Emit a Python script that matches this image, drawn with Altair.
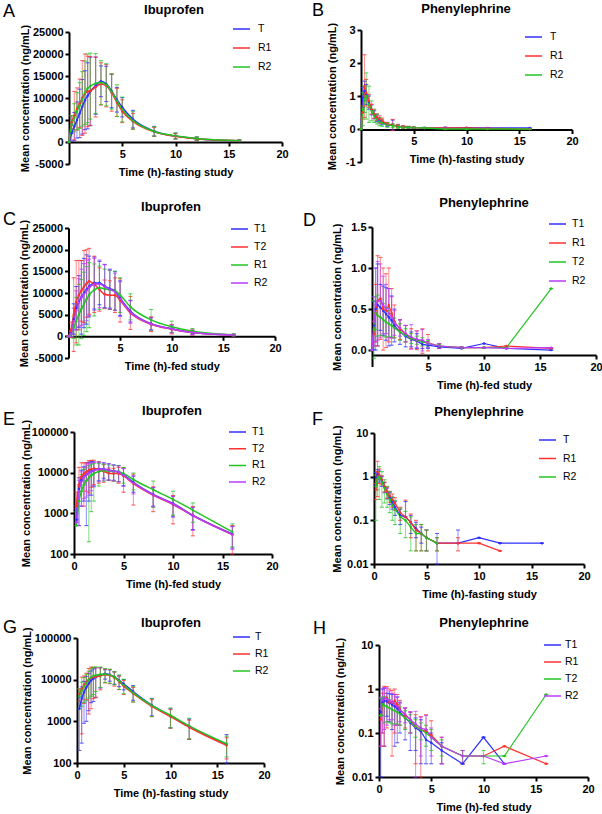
import altair as alt
import pandas as pd

# ---------------- data ----------------
ibu_t = [0, 0.25, 0.5, 0.75, 1, 1.25, 1.5, 1.75, 2, 2.5, 3, 3.5, 4, 4.5, 5, 6, 8, 10, 12, 16]
phe_t = [0, 0.17, 0.33, 0.5, 0.75, 1, 1.25, 1.5, 1.75, 2, 2.5, 3, 3.5, 4, 4.5, 5, 6, 8, 10, 12, 16]

# Ibuprofen - fasting study
ibu_fast_T = [0, 2000, 3500, 5000, 6500, 8000, 9500, 10500, 11500, 12800, 13800, 13200, 11600, 9600, 7900, 5200, 2450, 1350, 750, 280]
ibu_fast_T_sd = [0, 1800, 3200, 4100, 5500, 6200, 6700, 7500, 7800, 6500, 3500, 4000, 3800, 2800, 2200, 2000, 1100, 650, 380, 200]
ibu_fast_R1 = [0, 4500, 6000, 7500, 8800, 10000, 11000, 11500, 11600, 12500, 13200, 12800, 11200, 9000, 7000, 4700, 2300, 1300, 720, 265]
ibu_fast_R1_sd = [0, 1500, 5500, 4800, 5500, 8500, 9000, 8000, 7800, 6800, 4800, 4800, 4200, 3200, 2600, 1800, 1000, 620, 350, 140]
ibu_fast_R2 = [0, 4000, 5500, 7000, 8300, 9800, 11200, 12200, 12700, 13300, 13500, 13000, 11500, 9400, 7400, 4900, 2400, 1400, 780, 290]
ibu_fast_R2_sd = [0, 2000, 3200, 4200, 5200, 6200, 7200, 7800, 7500, 6800, 5000, 4800, 4000, 3600, 2800, 2000, 1100, 700, 400, 150]

# Ibuprofen - fed study
ibu_fed_T1 = [0, 700, 4000, 6500, 8000, 9000, 10000, 10800, 11500, 12300, 12300, 11600, 11000, 10500, 8800, 5800, 2900, 1750, 900, 310]
ibu_fed_T1_sd = [0, 800, 3500, 5000, 6000, 8500, 8000, 8000, 7000, 6000, 5000, 5000, 4500, 4500, 4000, 2500, 1400, 900, 500, 170]
ibu_fed_T2 = [0, 1500, 5000, 8000, 9500, 10500, 11500, 12200, 12700, 12000, 10800, 9700, 9500, 9500, 8300, 5400, 2800, 1650, 880, 300]
ibu_fed_T2_sd = [0, 1800, 8500, 9500, 8000, 7000, 8300, 7800, 7600, 6500, 5000, 3300, 3300, 4000, 5000, 3800, 1700, 1100, 600, 200]
ibu_fed_R1 = [0, 500, 2000, 3500, 5000, 6300, 7500, 8600, 9500, 10700, 11200, 11000, 10700, 10500, 9500, 6800, 3800, 2200, 1200, 350]
ibu_fed_R1_sd = [0, 600, 2500, 5500, 7000, 6800, 7300, 7500, 7500, 6000, 5000, 4500, 4500, 4500, 4000, 3000, 2400, 1300, 600, 200]
ibu_fed_R2 = [0, 600, 3500, 6000, 7800, 9000, 9800, 10600, 11300, 12000, 12100, 11500, 10800, 10300, 8600, 5600, 2850, 1700, 880, 300]
ibu_fed_R2_sd = [0, 700, 3000, 4500, 5500, 6500, 7000, 7000, 6500, 6000, 5500, 5000, 4500, 4300, 4000, 2600, 1400, 900, 500, 170]

# Phenylephrine - fasting study
phe_fast_T = [0, 0.95, 1.15, 1.05, 0.8, 0.58, 0.43, 0.33, 0.26, 0.2, 0.13, 0.12, 0.09, 0.065, 0.05, 0.04, 0.03, 0.03, 0.04, 0.03, 0.03]
phe_fast_T_sd = [0, 0.3, 0.3, 0.3, 0.2, 0.15, 0.12, 0.1, 0.08, 0.07, 0.05, 0.15, 0.04, 0.025, 0.02, 0.02, 0.02, 0.03, 0, 0, 0]
phe_fast_R1 = [0, 0.5, 1.3, 1.1, 0.85, 0.6, 0.45, 0.36, 0.3, 0.25, 0.15, 0.12, 0.09, 0.06, 0.05, 0.04, 0.03, 0.03, 0.03, 0.02, 0]
phe_fast_R1_sd = [0, 0.2, 0.95, 0.4, 0.2, 0.15, 0.13, 0.1, 0.1, 0.08, 0.05, 0.17, 0.05, 0.04, 0.03, 0.02, 0.01, 0.01, 0, 0, 0]
phe_fast_R2 = [0, 0.6, 0.9, 1.0, 0.75, 0.55, 0.4, 0.3, 0.22, 0.18, 0.12, 0.1, 0.07, 0.05, 0.05, 0.04, 0.03, 0, 0, 0, 0]
phe_fast_R2_sd = [0, 0.5, 0.4, 0.7, 0.55, 0.3, 0.2, 0.15, 0.12, 0.1, 0.07, 0.06, 0.05, 0.03, 0.03, 0.02, 0.01, 0, 0, 0, 0]

# Phenylephrine - fed study
phe_fed_T1 = [0, 0.3, 0.5, 0.55, 0.52, 0.48, 0.44, 0.4, 0.36, 0.3, 0.22, 0.17, 0.13, 0.11, 0.07, 0.06, 0.04, 0.02, 0.08, 0.02, 0]
phe_fed_T1_sd = [0, 0.295, 0.5, 0.5, 0.28, 0.3, 0.32, 0.35, 0.3, 0.2, 0.15, 0.13, 0.09, 0.09, 0.05, 0.04, 0.02, 0, 0, 0, 0]
phe_fed_R1 = [0, 0.2, 0.45, 0.6, 0.63, 0.5, 0.48, 0.55, 0.45, 0.35, 0.25, 0.2, 0.14, 0.12, 0.11, 0.09, 0.05, 0.03, 0.03, 0.05, 0.02]
phe_fed_R1_sd = [0, 0.15, 0.35, 0.55, 0.5, 0.5, 0.45, 0.45, 0.3, 0.2, 0.12, 0.1, 0.12, 0.115, 0.15, 0.1, 0.03, 0.01, 0, 0, 0]
phe_fed_T2 = [0, 0.25, 0.45, 0.42, 0.4, 0.37, 0.34, 0.32, 0.3, 0.27, 0.22, 0.18, 0.14, 0.12, 0.1, 0.08, 0.05, 0.03, 0.03, 0.03, 0.75]
phe_fed_T2_sd = [0, 0.35, 0.2, 0.25, 0.22, 0.2, 0.18, 0.16, 0.14, 0.12, 0.1, 0.08, 0.06, 0.05, 0.05, 0.04, 0.02, 0.01, 0.01, 0, 0]
phe_fed_R2 = [0, 0.35, 0.55, 0.6, 0.6, 0.55, 0.5, 0.45, 0.4, 0.33, 0.27, 0.2, 0.16, 0.13, 0.12, 0.08, 0.05, 0.03, 0.03, 0.02, 0.03]
phe_fed_R2_sd = [0, 0.3, 0.45, 0.48, 0.45, 0.35, 0.3, 0.3, 0.25, 0.15, 0.1, 0.1, 0.15, 0.1, 0.13, 0.05, 0.03, 0.01, 0, 0, 0]

ibu_lin_ticks = [-5000, 0, 5000, 10000, 15000, 20000, 25000]
phe_lin_ticks = [-1, 0, 1, 2, 3]
phe_fed_lin_ticks = [0, 0.5, 1.0, 1.5]
ibu_log_ticks = [100, 1000, 10000, 100000]
phe_log_ticks = [0.01, 0.1, 1, 10]
x_ticks_cross = [5, 10, 15, 20]
x_ticks_full = [0, 5, 10, 15, 20]

# ---------------- styling ----------------
FONT = "Liberation Sans"
BLUE, RED, GREEN, PURPLE = "#2f2fff", "#ff3030", "#22c422", "#b93cff"
TOTAL_H = 814


def long_df(t, series, floor=None):
    rows = []
    for name, (m, s) in series.items():
        for ti, mi, si in zip(t, m, s):
            lo, hi = mi - si, mi + si
            if floor is not None:
                if mi <= 0:
                    continue
                if lo <= 0:
                    lo = mi          # lower bar not drawable on a log axis
                else:
                    lo = max(lo, floor)
            rows.append({"t": ti, "series": name, "mean": mi, "lo": lo, "hi": hi})
    return pd.DataFrame(rows)


ibu_fast = {"T": (ibu_fast_T, ibu_fast_T_sd), "R1": (ibu_fast_R1, ibu_fast_R1_sd), "R2": (ibu_fast_R2, ibu_fast_R2_sd)}
ibu_fed = {"T1": (ibu_fed_T1, ibu_fed_T1_sd), "T2": (ibu_fed_T2, ibu_fed_T2_sd), "R1": (ibu_fed_R1, ibu_fed_R1_sd), "R2": (ibu_fed_R2, ibu_fed_R2_sd)}
phe_fast = {"T": (phe_fast_T, phe_fast_T_sd), "R1": (phe_fast_R1, phe_fast_R1_sd), "R2": (phe_fast_R2, phe_fast_R2_sd)}
phe_fed = {"T1": (phe_fed_T1, phe_fed_T1_sd), "R1": (phe_fed_R1, phe_fed_R1_sd), "T2": (phe_fed_T2, phe_fed_T2_sd), "R2": (phe_fed_R2, phe_fed_R2_sd)}


def panel(df, order, colors, xr, yr, ydom, ytype, yvals, lab_expr, xvals, xaxis_y,
          leg, ytp, xtitle, interp, lw):
    xs = alt.Scale(domain=[0, 20], range=xr, nice=False, zero=False)
    if ytype == "log":
        ys = alt.Scale(type="log", domain=ydom, range=yr, nice=False)
    else:
        ys = alt.Scale(domain=ydom, range=yr, nice=False, zero=False)
    xa = alt.Axis(orient="bottom", offset=xaxis_y - TOTAL_H, values=xvals, title=xtitle,
                  labelExpr="'' + datum.value")
    ya = alt.Axis(orient="left", offset=-xr[0], values=yvals, labelExpr=lab_expr,
                  title="Mean concentration (ng/mL)", titlePadding=ytp)
    lx, ly, step, loff = leg
    legend = alt.Legend(orient="none", legendX=lx, legendY=ly - 6, title=None, clipHeight=12,
                        rowPadding=step - 12, symbolType="stroke", symbolSize=289,
                        symbolStrokeWidth=1.5, symbolOpacity=1, labelOffset=loff, padding=0,
                        labelFont=FONT, labelFontSize=10.5, labelColor="black")
    col = alt.Color("series:N", scale=alt.Scale(domain=order, range=colors), legend=legend, sort=order)
    X = alt.X("t:Q", scale=xs, axis=xa)
    base = alt.Chart(df)
    rules = base.mark_rule(strokeWidth=1.1, opacity=0.5).encode(
        x=X, y=alt.Y("lo:Q", scale=ys, axis=ya), y2="hi:Q", color=col)
    cap_hi = base.mark_tick(orient="horizontal", size=4, thickness=1.1, opacity=0.75).encode(
        x=X, y=alt.Y("hi:Q", scale=ys, axis=ya), color=col)
    cap_lo = base.mark_tick(orient="horizontal", size=4, thickness=1.1, opacity=0.75).encode(
        x=X, y=alt.Y("lo:Q", scale=ys, axis=ya), color=col)
    line = base.mark_line(strokeWidth=lw, interpolate=interp).encode(
        x=X, y=alt.Y("mean:Q", scale=ys, axis=ya), color=col)
    pts = base.mark_circle(size=6, opacity=1).encode(
        x=X, y=alt.Y("mean:Q", scale=ys, axis=ya), color=col)
    return alt.layer(rules, cap_hi, cap_lo, line, pts)


def label(txt, x, y, size, weight="bold", align="center"):
    return alt.Chart(pd.DataFrame({"a": [0]})).mark_text(
        text=txt, font=FONT, fontSize=size, fontWeight=weight, align=align,
        baseline="middle", color="black").encode(x=alt.value(x), y=alt.value(y))


C3 = [BLUE, RED, GREEN]
C_fed_ibu = [BLUE, RED, GREEN, PURPLE]
C_fed_phe = [BLUE, RED, GREEN, PURPLE]
LIN = "'' + datum.value"
FAST = "Time (h)-fasting study"
FED = "Time (h)-fed study"

pA = panel(long_df(ibu_t, ibu_fast), ["T", "R1", "R2"], C3, [69, 282], [164, 32], [-5000, 25000], "linear",
           ibu_lin_ticks, LIN, x_ticks_cross, 142, (232, 29, 19, 7), 2, FAST, "monotone", 1.5)
pB = panel(long_df(phe_t, phe_fast), ["T", "R1", "R2"], C3, [361, 572], [162, 30], [-1, 3], "linear",
           phe_lin_ticks, LIN, x_ticks_cross, 129.5, (524, 37, 19, 7), 8, FAST, "linear", 1.3)
pC = panel(long_df(ibu_t, ibu_fed), ["T1", "T2", "R1", "R2"], C_fed_ibu, [68.5, 275], [358, 228], [-5000, 25000], "linear",
           ibu_lin_ticks, LIN, x_ticks_cross, 336.3, (230, 229, 18, 5), 2.5, FED, "monotone", 1.5)
pD = panel(long_df(phe_t, phe_fed), ["T1", "R1", "T2", "R2"], C_fed_phe, [372, 596], [366.5, 227], [-0.2, 1.5], "linear",
           phe_fed_lin_ticks, "format(datum.value, '.1f')", x_ticks_cross, 355, (548, 224, 19, 5), 8.5, FED, "linear", 1.2)
pE = panel(long_df(ibu_t, ibu_fed, floor=100), ["T1", "T2", "R1", "R2"], C_fed_ibu, [74, 272], [554, 432], [100, 100000], "log",
           ibu_log_ticks, LIN, x_ticks_full, 554, (228, 432, 16.7, 5), 0, FED, "monotone", 1.5)
pF = panel(long_df(phe_t, phe_fast, floor=0.01), ["T", "R1", "R2"], C3, [374, 584], [564, 433], [0.01, 10], "log",
           phe_log_ticks, LIN, x_ticks_full, 564, (538, 440, 18.5, 6), 4, FAST, "linear", 1.3)
pG = panel(long_df(ibu_t, ibu_fast, floor=100), ["T", "R1", "R2"], C3, [77, 264], [763, 638], [100, 100000], "log",
           ibu_log_ticks, LIN, x_ticks_full, 763, (232, 637, 17, 4), 2, FAST, "monotone", 1.5)
pH = panel(long_df(phe_t, phe_fed, floor=0.01), ["T1", "R1", "T2", "R2"], C_fed_phe, [379, 588], [777, 645], [0.01, 10], "log",
           phe_log_ticks, LIN, x_ticks_full, 777, (543, 645, 17, 3), 6, FED, "linear", 1.2)

texts = [
    label("Ibuprofen", 174, 10, 13), label("Phenylephrine", 466, 9, 13),
    label("Ibuprofen", 171, 207, 13), label("Phenylephrine", 484, 203, 13),
    label("Ibuprofen", 172, 411, 13), label("Phenylephrine", 479, 412, 13),
    label("Ibuprofen", 171, 623, 13), label("Phenylephrine", 484, 623, 13),
    label("A", 3, 12, 18, "normal", "left"), label("B", 312, 11, 18, "normal", "left"),
    label("C", 3, 220, 18, "normal", "left"), label("D", 303, 221, 18, "normal", "left"),
    label("E", 3, 420, 18, "normal", "left"), label("F", 312, 420, 18, "normal", "left"),
    label("G", 3, 628, 18, "normal", "left"), label("H", 313, 629, 18, "normal", "left"),
]

chart = alt.layer(pA, pB, pC, pD, pE, pF, pG, pH, *texts).resolve_scale(
    x="independent", y="independent", color="independent"
).properties(
    width=602, height=814, padding=0, autosize=alt.AutoSizeParams(type="none")
).configure_view(stroke=None).configure_axis(
    grid=False, domainColor="black", domainWidth=2, tickColor="black", tickWidth=2, tickSize=4,
    labelFont=FONT, labelFontSize=11, labelFontWeight="bold", labelColor="black", labelPadding=2,
    titleFont=FONT, titleFontSize=11, titleFontWeight="bold", titleColor="black", titlePadding=7,
    labelFlush=False, labelOverlap=False, minExtent=0, maxExtent=200
)

chart.save("out.html", embed_options={"renderer": "svg", "actions": False})
